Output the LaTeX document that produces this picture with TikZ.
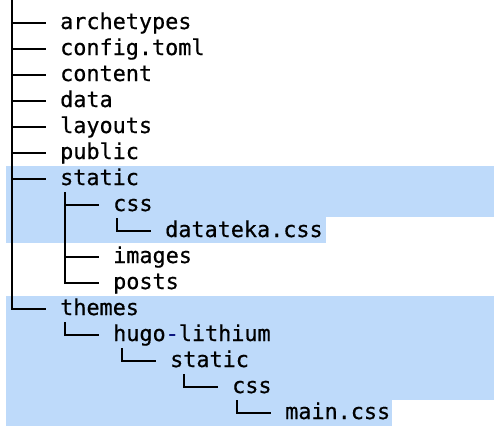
\documentclass[tikz,border=0pt]{standalone}
\usepackage{fontspec}
\usepackage{xcolor}
\usepackage{tikz}
\usetikzlibrary{calc}
\newfontfamily\treefont[FakeBold=0.5]{DejaVu Sans Mono}
\definecolor{selblue}{RGB}{190,218,250}
\definecolor{hyphblue}{RGB}{12,22,128}

\begin{document}
\begin{tikzpicture}[
  x=1pt, y=-1pt,
  entry/.style={anchor=base west, inner sep=0pt, font=\treefont\fontsize{21.8}{26}\selectfont},
  branch/.style={line width=1.6pt, black},
  sel/.style={fill=selblue}
]
\useasboundingbox (0,0) rectangle (494,440);
% selection highlights
\fill[sel] (6,166) rectangle (494,217);
\fill[sel] (6,217) rectangle (326,243);
\fill[sel] (6,296) rectangle (494,400);
\fill[sel] (6,400) rectangle (392,426);

% one entry per row: name/x/label
\foreach \name/\x/\txt [count=\r from 0] in {
  arch/60/archetypes, conf/60/config.toml, cont/60/content, data/60/data,
  lay/60/layouts, pub/60/public, stat/60/static, css/113/css,
  dtk/165/datateka.css, img/113/images, posts/113/posts, themes/60/themes,
  hugo/113/{hugo\textcolor{hyphblue}{-}lithium}, tstat/170/static,
  tcss/232/css, main/285/main.css}
  \node[entry] (\name) at (\x,29+26*\r) {\txt};

% trunks
\coordinate (root) at (12,0);
\draw[branch] (root) -- ($(themes.base west)+(-48,-6)$);
\draw[branch] ($(css.base west)+(-48,-19)$) -- ($(posts.base west)+(-48,-6)$);

% branches
\foreach \n in {arch,conf,cont,data,lay,pub,stat,css,dtk,img,posts,themes,hugo,tstat,tcss,main}
  \draw[branch] ($(\n.base west)+(-48,-19)$) |- ($(\n.base west)+(-14,-6)$);
\end{tikzpicture}
\end{document}
